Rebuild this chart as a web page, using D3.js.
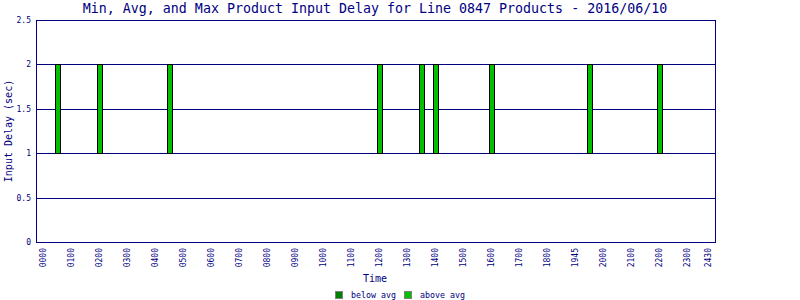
<!DOCTYPE html>
<html>
<head>
<meta charset="utf-8">
<script src="https://cdn.jsdelivr.net/npm/d3@7"></script>
<style>
  body { margin: 0; background: #fff; }
  svg text { font-family: "DejaVu Sans Mono", monospace; fill: #000080; }
</style>
</head>
<body>
<div id="chart"></div>
<script>
// time of each product sample (hours of the day)
var times = [0.54, 2.04, 4.54, 12.04, 13.54, 14.04, 16.04, 19.54, 22.04];
var minDelay = [1, 1, 1, 1, 1, 1, 1, 1, 1];
var avgDelay = [1, 1, 1, 1, 1, 1, 1, 1, 1];
var maxDelay = [2, 2, 2, 2, 2, 2, 2, 2, 2];

var tickHours = [0,1,2,3,4,5,6,7,8,9,10,11,12,13,14,15,16,17,18,19,20,21,22,23,23.75];
var tickLabels = ["0000","0100","0200","0300","0400","0500","0600","0700","0800","0900","1000",
  "1100","1200","1300","1400","1500","1600","1700","1800","1945","2000","2100","2200","2300","2430"];
var yTicks = [0, 0.5, 1, 1.5, 2, 2.5];

var width = 800, height = 300;
var navy = "#000080";

var svg = d3.select("#chart").append("svg")
    .attr("width", width)
    .attr("height", height);

var x = d3.scaleLinear().domain([-0.25, 24]).range([36, 715]);
var y = d3.scaleLinear().domain([0, 2.5]).range([242, 20]);

// horizontal grid lines
svg.append("g").selectAll("line")
    .data(yTicks)
    .enter().append("line")
    .attr("x1", 36).attr("x2", 715)
    .attr("y1", d => Math.round(y(d)) + 0.5)
    .attr("y2", d => Math.round(y(d)) + 0.5)
    .attr("stroke", navy);

// frame sides
svg.append("line").attr("x1", 36.5).attr("x2", 36.5).attr("y1", 20).attr("y2", 243).attr("stroke", navy);
svg.append("line").attr("x1", 715.5).attr("x2", 715.5).attr("y1", 20).attr("y2", 243).attr("stroke", navy);

// y tick labels
svg.append("g").selectAll("text")
    .data(yTicks)
    .enter().append("text")
    .attr("x", 31)
    .attr("y", d => Math.round(y(d)) + 3)
    .attr("text-anchor", "end")
    .style("font-size", "8px")
    .text(d => d);

// x tick labels, rotated
svg.append("g").selectAll("text")
    .data(tickHours)
    .enter().append("text")
    .attr("transform", d => "translate(" + (x(d) + 3) + ",248) rotate(-90)")
    .attr("text-anchor", "end")
    .style("font-size", "8px")
    .text((d, i) => tickLabels[i]);

// bars: below avg (min..avg) and above avg (avg..max)
var barW = 5;
var bars = svg.append("g");
times.forEach(function (t, i) {
    var cx = Math.round(x(t));
    var lo = Math.round(y(minDelay[i])), mid = Math.round(y(avgDelay[i])), hi = Math.round(y(maxDelay[i]));
    if (lo - mid > 0) {
        bars.append("rect")
            .attr("x", cx - 2.5).attr("y", mid + 0.5)
            .attr("width", barW).attr("height", lo - mid)
            .attr("fill", "#008000").attr("stroke", "#000");
    }
    if (mid - hi > 0) {
        bars.append("rect")
            .attr("x", cx - 2.5).attr("y", hi + 0.5)
            .attr("width", barW).attr("height", mid - hi)
            .attr("fill", "#00c000").attr("stroke", "#000");
    }
});

// title
svg.append("text")
    .attr("x", 375).attr("y", 13)
    .attr("text-anchor", "middle")
    .style("font-size", "13.3px")
    .text("Min, Avg, and Max Product Input Delay for Line 0847 Products - 2016/06/10");

// axis titles
svg.append("text")
    .attr("x", 375).attr("y", 282)
    .attr("text-anchor", "middle")
    .style("font-size", "10px")
    .text("Time");

svg.append("text")
    .attr("transform", "translate(12,131) rotate(-90)")
    .attr("text-anchor", "middle")
    .style("font-size", "10px")
    .text("Input Delay (sec)");

// legend
var legend = [{ label: "below avg", color: "#008000", x: 335 }, { label: "above avg", color: "#00c000", x: 404 }];
var lg = svg.append("g").selectAll("g")
    .data(legend)
    .enter().append("g");
lg.append("rect")
    .attr("x", d => d.x + 0.5).attr("y", 291.5)
    .attr("width", 7).attr("height", 7)
    .attr("fill", d => d.color)
    .attr("stroke", "#808080");
lg.append("text")
    .attr("x", d => d.x + 16).attr("y", 298)
    .style("font-size", "8.3px")
    .text(d => d.label);
</script>
</body>
</html>
